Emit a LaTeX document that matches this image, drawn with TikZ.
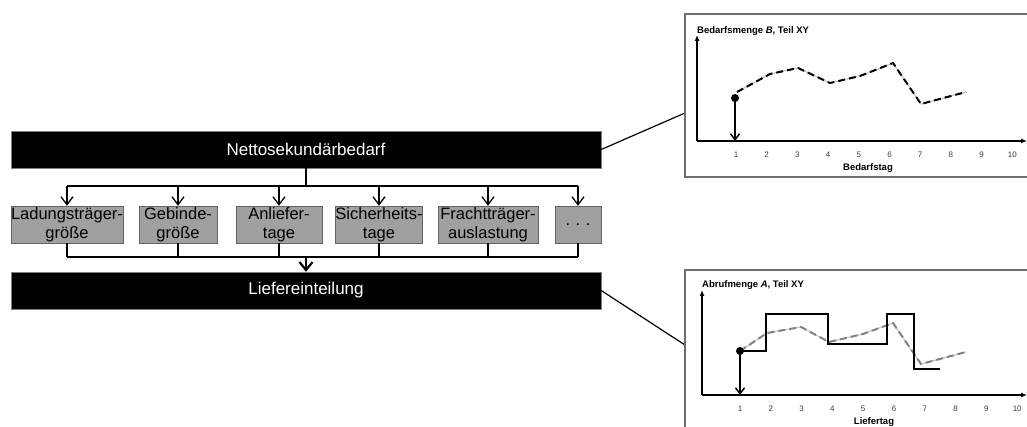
\documentclass[tikz,border=0pt]{standalone}
\usepackage{fontspec}
\setmainfont{Liberation Sans}
\usetikzlibrary{arrows.meta}
\definecolor{boxgray}{RGB}{160,160,160}
\definecolor{boxedge}{RGB}{100,100,100}
\definecolor{frameedge}{RGB}{110,110,110}
\definecolor{ticktext}{RGB}{60,60,60}
\definecolor{lightline}{RGB}{200,200,200}
\definecolor{dashgray}{RGB}{130,130,130}
\tikzset{
  blackbox/.style={draw=gray, fill=black, text=white, minimum width=590pt, minimum height=37pt, inner sep=0pt, font=\fontsize{17}{20}\selectfont},
  graybox/.style={draw=boxedge, fill=boxgray, text=black, minimum height=37pt, inner sep=0pt, align=center, font=\fontsize{16.5}{18.5}\selectfont},
  conn/.style={draw=black, line width=1.3pt},
  openarr/.style={conn, -{Straight Barb[length=8pt,width=12pt,line width=1.3pt]}},
  bigarr/.style={draw=black, line width=2pt, -{Straight Barb[length=8pt,width=13pt,line width=2.2pt]}},
  frame/.style={draw=frameedge, line width=1.2pt},
  axis/.style={draw=black, line width=2pt, -{Latex[length=6pt,width=5pt]}},
  charttitle/.style={anchor=west, inner sep=0pt, font=\fontsize{9.5}{10}\selectfont\bfseries},
  ticklabel/.style={inner sep=0pt, text=ticktext, font=\fontsize{8}{9}\selectfont},
  axislabel/.style={inner sep=0pt, font=\fontsize{9.5}{10}\selectfont\bfseries},
  dot/.style={circle, fill=black, inner sep=0pt, minimum size=8pt},
  dotarr/.style={draw=black, line width=1.5pt, -{Straight Barb[length=6pt,width=9pt,line width=1.5pt]}},
  bgline/.style={draw=lightline, line width=1.2pt},
  blackdash/.style={draw=black, line width=2pt, dash pattern=on 7pt off 4pt},
  graydash/.style={draw=dashgray, line width=2pt, dash pattern=on 7pt off 4pt},
  stepline/.style={draw=black, line width=2pt}
}
\begin{document}
\begin{tikzpicture}[x=1pt,y=-1pt]
\useasboundingbox (0,0) rectangle (1027,427);
\clip (0,0) rectangle (1027,427);
\fill[white] (0,0) rectangle (1027,427);

% main boxes
\node[blackbox] (netto) at (306,149.5) {Nettosekundärbedarf};
\node[blackbox] (liefer) at (306,290.5) {Liefereinteilung};

\node[graybox, minimum width=112pt] (b1) at (67,224.5) {Ladungsträger-\\größe};
\node[graybox, minimum width=78pt] (b2) at (178,224.5) {Gebinde-\\größe};
\node[graybox, minimum width=86pt] (b3) at (279,224.5) {Anliefer-\\tage};
\node[graybox, minimum width=86pt] (b4) at (379,224.5) {Sicherheits-\\tage};
\node[graybox, minimum width=100pt] (b5) at (488,224.5) {Frachtträger-\\auslastung};
\node[graybox, minimum width=46pt] (b6) at (578,224.5) {.\,\,.\,\,.};

\coordinate (busT) at (306,186);
\coordinate (busB) at (306,257);
\draw[conn] (netto.south) -- (busT);
\draw[conn] (b1.north |- busT) -- (b6.north |- busT);
\foreach \i in {1,...,6} {
  \draw[openarr] (b\i.north |- busT) -- (b\i.north);
  \draw[conn] (b\i.south) -- (b\i.south |- busB);
}
\draw[conn] (b1.south |- busB) -- (b6.south |- busB);
\draw[bigarr] (busB) -- (liefer.north);

% connectors to charts
\coordinate (c1) at (685,113);
\coordinate (c2) at (685,345);
\draw[conn, line width=1.2pt] (netto.east) -- (c1);
\draw[conn, line width=1.2pt] (liefer.east) -- (c2);

% chart 1
\draw[frame] (685,14) rectangle (1045,177);
\coordinate (o1) at (697,141);
\draw[axis] (o1) -- (697,35);
\draw[axis] (o1) -- (1027,141);
\node[charttitle] (t1) at (697,31) {Bedarfsmenge \textit{B}, Teil XY};
\foreach \i in {1,...,10} {
  \node[ticklabel] (xa\i) at ({736+(\i-1)*30.7},155) {\i};
}
\node[axislabel] (l1) at (868,168) {Bedarfstag};
\draw[bgline] (737,92) -- (770,74) -- (798,68) -- (830,83) -- (860,76) -- (893,63) -- (921,104) -- (966,92);
\draw[blackdash] (737,92) -- (770,74) -- (798,68) -- (830,83) -- (860,76) -- (893,63) -- (921,104) -- (966,92);
\node[dot] (d1) at (735,98) {};
\draw[dotarr] (d1.center) -- (d1 |- o1);

% chart 2
\draw[frame] (685,270) rectangle (1045,445);
\coordinate (o2) at (702,395);
\draw[axis] (o2) -- (702,290);
\draw[axis] (o2) -- (1027,395);
\node[charttitle] (t2) at (702,285) {Abrufmenge \textit{A}, Teil XY};
\foreach \i in {1,...,10} {
  \node[ticklabel] (xb\i) at ({740+(\i-1)*30.8},409) {\i};
}
\node[axislabel] (l2) at (874,422) {Liefertag};
\draw[bgline] (740,351) -- (767,333) -- (801,327) -- (829,342) -- (863,334) -- (893,323) -- (921,364) -- (966,352);
\draw[graydash] (740,351) -- (767,333) -- (801,327) -- (829,342) -- (863,334) -- (893,323) -- (921,364) -- (966,352);
\draw[stepline] (740,351) -- (766,351) -- (766,314) -- (828,314) -- (828,344) -- (887,344) -- (887,314) -- (914,314) -- (914,369) -- (940,369);
\node[dot] (d2) at (740,351) {};
\draw[dotarr] (d2.center) -- (d2 |- o2);
\end{tikzpicture}
\end{document}
